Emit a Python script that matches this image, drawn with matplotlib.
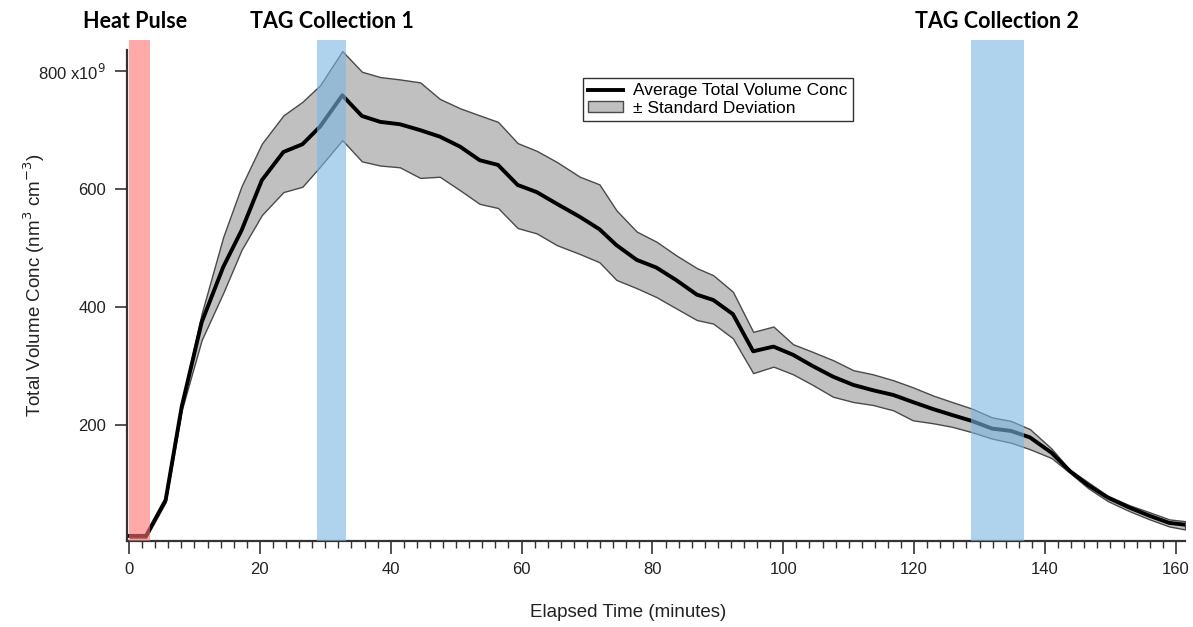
import matplotlib
matplotlib.use("Agg")
import matplotlib.pyplot as plt
from matplotlib.patches import Rectangle, Patch
from matplotlib.lines import Line2D
from matplotlib.ticker import MultipleLocator, FixedLocator, FuncFormatter

plt.rcParams['font.family'] = ['Liberation Sans', 'DejaVu Sans']

# elapsed time (minutes)
time = [0.15, 2.6, 5.6, 8.05, 11.1, 14.4, 17.2, 20.3, 23.6, 26.5,
        29.2, 32.6, 35.6, 38.4, 41.4, 44.5, 47.5, 50.6, 53.6, 56.4,
        59.4, 62.3, 65.4, 68.9, 71.9, 74.5, 77.6, 80.6, 83.6, 86.8,
        89.3, 92.3, 95.4, 98.5, 101.5, 104.5, 107.6, 110.7, 113.7, 116.8,
        119.8, 122.9, 125.8, 128.8, 131.9, 134.8, 137.7, 141.0, 143.8, 146.6,
        149.6, 152.9, 156.0, 159.0, 161.4]
# average total volume conc (x1e9 nm3 cm-3)
mean_vol = [12, 12, 73, 231, 374, 468, 530, 615, 663, 676,
            706, 759, 724, 714, 710, 700, 689, 672, 649, 641,
            607, 595, 575, 553, 532, 505, 480, 467, 446, 421,
            412, 388, 325, 333, 319, 300, 282, 268, 259, 251,
            239, 227, 217, 207, 194, 190, 179, 153, 122, 98,
            77, 60, 46, 34, 31]
upper_sd = [15, 15, 77, 237, 389, 519, 605, 677, 725, 748,
            776, 834, 799, 790, 786, 781, 753, 737, 725, 714,
            678, 665, 646, 621, 608, 564, 528, 511, 488, 466,
            454, 426, 358, 367, 337, 324, 310, 293, 286, 276,
            264, 250, 239, 228, 213, 207, 193, 160, 124, 103,
            80, 64, 52, 40, 37]
lower_sd = [9, 9, 69, 225, 344, 424, 497, 556, 595, 604,
            638, 683, 647, 640, 637, 619, 621, 598, 575, 568,
            534, 525, 505, 490, 476, 446, 432, 417, 398, 378,
            372, 347, 288, 299, 286, 268, 248, 239, 234, 225,
            208, 203, 197, 188, 177, 170, 159, 144, 119, 93,
            71, 54, 40, 28, 23]

# shaded event windows (minutes)
event_labels = ["Heat Pulse", "TAG Collection 1", "TAG Collection 2"]
event_start = [0.0, 28.7, 128.7]
event_end = [3.2, 33.2, 136.8]
event_colors = ["#FF7171", "#7CB6E2", "#7CB6E2"]
label_x = [0.9, 31.0, 132.6]

y_ticks = [200, 400, 600, 800]
x_ticks = [0, 20, 40, 60, 80, 100, 120, 140, 160]

fig = plt.figure(figsize=(11.93, 6.27), dpi=100)
ax = fig.add_axes([0.1065, 0.1372, 0.8868, 0.7828])

ymin, ymax = 3.4, 835.6
ax.set_xlim(-0.3, 161.4)
ax.set_ylim(ymin, ymax)

ax.fill_between(time, lower_sd, upper_sd, facecolor="#C0C0C0",
                edgecolor="#4A4A4A", linewidth=1.0, zorder=2)
ax.plot(time, mean_vol, color="black", linewidth=2.8, zorder=3)

for s, e, c in zip(event_start, event_end, event_colors):
    ax.add_patch(Rectangle((s, ymin), e - s, 852 - ymin, facecolor=c,
                           alpha=0.6, edgecolor="none", clip_on=False, zorder=4))

for lbl, lx in zip(event_labels, label_x):
    ax.text(lx, 884, lbl, ha="center", va="center", fontsize=15.5,
            fontweight="bold", family=["Lato", "DejaVu Sans"], clip_on=False)

for side in ["top", "right"]:
    ax.spines[side].set_visible(False)
ax.spines["left"].set_color("#333333")
ax.spines["bottom"].set_color("#333333")
ax.spines["left"].set_linewidth(1.6)
ax.spines["bottom"].set_linewidth(1.6)

ax.yaxis.set_major_locator(FixedLocator(y_ticks))
ax.yaxis.set_major_formatter(FuncFormatter(
    lambda v, p: "800 x10$^{9}$" if abs(v - 800) < 1e-6 else f"{int(v)}"))
ax.xaxis.set_major_locator(FixedLocator(x_ticks))
ax.xaxis.set_minor_locator(MultipleLocator(2))
ax.tick_params(axis="both", which="major", direction="out", length=9, width=1.2,
               labelsize=12, color="#333333", labelcolor="#222222", pad=6)
ax.tick_params(axis="x", which="minor", direction="out", length=5, width=1.0, color="#333333")

ax.set_xlabel("Elapsed Time (minutes)", fontsize=13.5, color="#222222")
ax.xaxis.set_label_coords(0.4735, -0.128)
ax.set_ylabel("Total Volume Conc (nm$^{3}$ cm$^{-3}$)", fontsize=13.5, color="#222222")
ax.yaxis.set_label_coords(-0.0755, 0.52)

handles = [Line2D([0], [0], color="black", linewidth=2.8),
           Patch(facecolor="#C0C0C0", edgecolor="#4A4A4A")]
leg = ax.legend(handles, ["Average Total Volume Conc", "\u00b1 Standard Deviation"],
                loc="upper left", bbox_to_anchor=(0.431, 0.943), fontsize=12.5,
                frameon=True, fancybox=False, framealpha=1, edgecolor="#333333",
                handlelength=2.0, handleheight=0.6, borderpad=0.3, labelspacing=0.15,
                handletextpad=0.6, borderaxespad=0)
leg.get_frame().set_linewidth(1.0)

fig.savefig("out.png", dpi=100)
